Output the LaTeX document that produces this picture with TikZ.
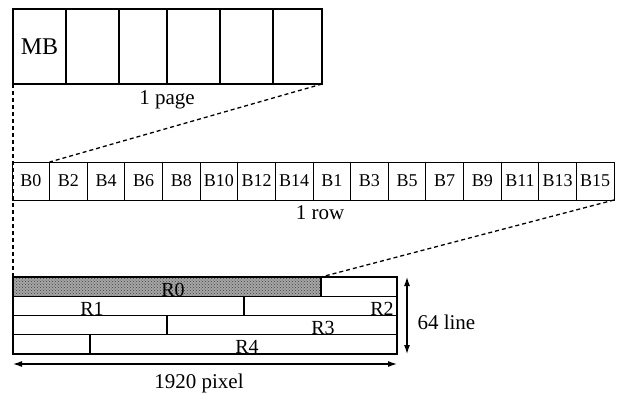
\documentclass[tikz,border=0pt]{standalone}
\usepackage{fontspec}
\setmainfont{Liberation Serif}
\usetikzlibrary{arrows.meta,patterns}
\tikzset{font=\fontsize{21}{21}\selectfont}
\tikzset{pagecell/.style={draw, line width=1.8pt, minimum height=75pt,
    inner sep=0pt, outer sep=0pt, anchor=north west}}
\tikzset{bcell/.style={draw, line width=0.9pt, minimum width=37.625pt,
    minimum height=38pt, inner sep=0pt, outer sep=0pt, anchor=north west,
    font=\fontsize{18}{18}\selectfont}}
\tikzset{rowcell/.style={draw, line width=1.2pt, minimum height=19.25pt,
    inner sep=0pt, outer sep=0pt, anchor=north west}}
\tikzset{rlabel/.style={font=\fontsize{20}{20}\selectfont}}
\tikzset{zoomline/.style={line width=1.3pt, dash pattern=on 4pt off 3pt}}

\begin{document}
\begin{tikzpicture}[x=1pt,y=-1pt]
  \useasboundingbox (0,0) rectangle (637,394);

  % one page of macroblocks
  \foreach \x/\w [count=\i from 0] in {13/53, 66/53, 119/48, 167/53, 220/53, 273/49}{
    \node[pagecell, minimum width=\w pt] (p\i) at (\x,9) {};
  };
  \node[font=\fontsize{24}{24}\selectfont] (mb) at (p0.center) {MB};
  \node (pagelbl) at (167,100) {1 page};

  % one row of blocks
  \foreach \b [count=\i from 0] in {0,2,4,6,8,10,12,14,1,3,5,7,9,11,13,15}{
    \node[bcell] (b\i) at ({12+37.625*\i},162) {B\b};
  };
  \node (rowlbl) at (320,213) {1 row};

  % 64 lines of the picture
  \node[rowcell, minimum width=308pt, preaction={fill=black!35},
        pattern=crosshatch dots, pattern color=black!75] (r0a) at (13,277) {};
  \node[rowcell, minimum width=76pt] (r0b) at (r0a.north east) {};
  \node[rowcell, minimum width=231pt] (r1a) at (r0a.south west) {};
  \node[rowcell, minimum width=153pt] (r1b) at (r1a.north east) {};
  \node[rowcell, minimum width=154pt] (r2a) at (r1a.south west) {};
  \node[rowcell, minimum width=230pt] (r2b) at (r2a.north east) {};
  \node[rowcell, minimum width=77pt] (r3a) at (r2a.south west) {};
  \node[rowcell, minimum width=307pt] (r3b) at (r3a.north east) {};

  \node[rlabel] (lbl0) at (173,290) {R0};
  \node[rlabel] (lbl1) at (92,309) {R1};
  \node[rlabel] (lbl2) at (382,309) {R2};
  \node[rlabel] (lbl3) at (323,328) {R3};
  \node[rlabel] (lbl4) at (247,347) {R4};

  % zoom lines
  \draw[zoomline] (p0.south west) -- (r0a.north west);
  \draw[zoomline] (p5.south east) -- (b1.north west);
  \draw[zoomline] (b15.south east) -- (r0a.north east);

  % sizes
  \coordinate (vtop) at (407,277);
  \coordinate (vbot) at (407,354);
  \coordinate (hleft) at (13,364);
  \coordinate (hright) at (397,364);
  \draw[line width=1.2pt, {Latex[length=9pt,width=6pt]}-{Latex[length=9pt,width=6pt]}]
    (vtop) -- (vbot);
  \draw[line width=1.2pt, {Latex[length=9pt,width=6pt]}-{Latex[length=9pt,width=6pt]}]
    (hleft) -- (hright);
  \node[anchor=west] (linelbl) at (414,322) {64 line};
  \node (pixlbl) at (199,383) {1920 pixel};
\end{tikzpicture}
\end{document}
